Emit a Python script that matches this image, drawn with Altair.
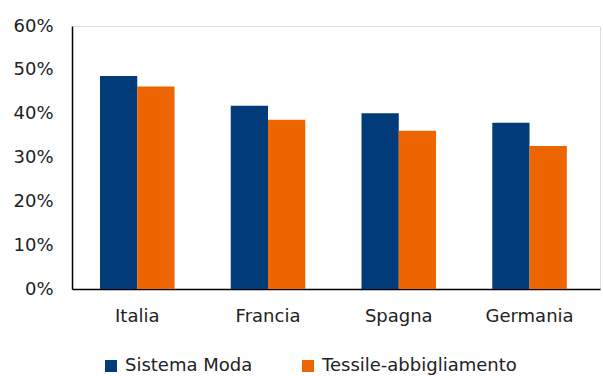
import altair as alt
import pandas as pd

countries = ["Italia", "Francia", "Spagna", "Germania"]
series = ["Sistema Moda", "Tessile-abbigliamento"]
sistema_moda = [0.486, 0.418, 0.401, 0.379]
tessile = [0.462, 0.386, 0.361, 0.326]
colors = ["#013b7a", "#ec6500"]

rows = []
for c, a, b in zip(countries, sistema_moda, tessile):
    rows.append({"Paese": c, "Serie": series[0], "Valore": a})
    rows.append({"Paese": c, "Serie": series[1], "Valore": b})
df = pd.DataFrame(rows)

FONT = "DejaVu Sans"

chart = alt.Chart(df).mark_bar(stroke=None).encode(
    x=alt.X("Paese:N", sort=countries, title=None,
            scale=alt.Scale(paddingInner=0.43, paddingOuter=0.234, align=0.4575),
            axis=alt.Axis(labelAngle=0, labelFontSize=18, labelColor="#222222",
                          labelFont=FONT, ticks=False, labelPadding=18,
                          domainColor="#000000", domainWidth=1.5)),
    xOffset=alt.XOffset("Serie:N", sort=series),
    y=alt.Y("Valore:Q", title=None,
            scale=alt.Scale(domain=[0, 0.6], nice=False),
            axis=alt.Axis(format=".0%", values=[0, 0.1, 0.2, 0.3, 0.4, 0.5, 0.6],
                          grid=False, ticks=False, labelFontSize=18,
                          labelColor="#222222", labelFont=FONT, labelPadding=19,
                          domainColor="#000000", domainWidth=1.5)),
    color=alt.Color("Serie:N", sort=series,
                    scale=alt.Scale(domain=series, range=colors),
                    legend=alt.Legend(title=None, orient="none", direction="horizontal",
                                      legendX=30, legendY=331,
                                      symbolType="square", symbolSize=144,
                                      symbolStrokeWidth=0, symbolOpacity=1,
                                      labelFontSize=18, labelFont=FONT,
                                      labelColor="#222222", labelOffset=5,
                                      columnPadding=46, labelLimit=400)),
).properties(
    width=528, height=263,
    autosize=alt.AutoSizeParams(type="none"),
    padding={"left": 72, "top": 26, "right": 3, "bottom": 87},
).configure_view(stroke=None).configure(background="white")

chart.save("out.html", embed_options={"renderer": "svg", "actions": False})
